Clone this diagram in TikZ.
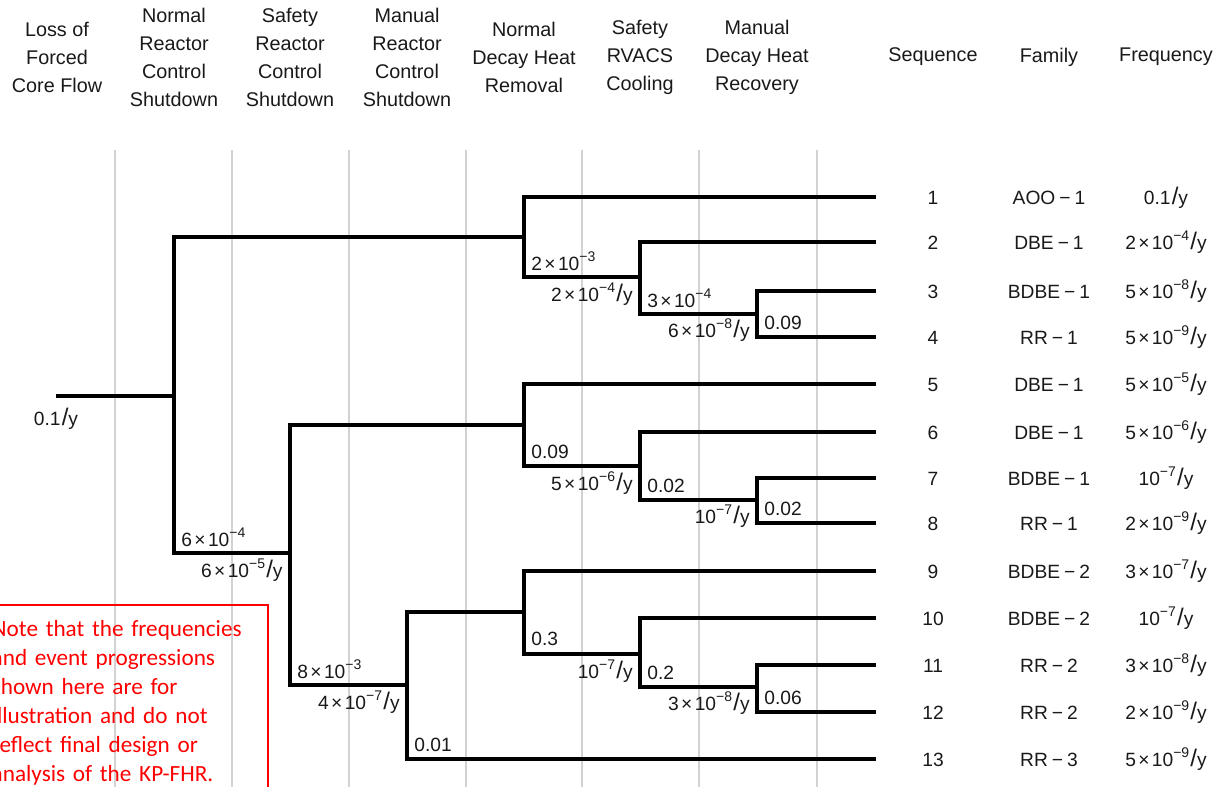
\documentclass[tikz,border=0pt]{standalone}
\usepackage{fontspec}
\setmainfont{Liberation Sans}
\newfontfamily\notefont{Carlito}
\usepackage{tikz}
\usetikzlibrary{positioning}

\newcommand{\ten}[1]{10\raisebox{0.42em}{\fontsize{7}{7}\selectfont−#1}}
\newcommand{\tms}{\kern1.2pt×\kern1.2pt}
\newcommand{\py}{\kern0.6pt{\fontsize{12}{12}\selectfont/}y}
\newcommand{\dash}{\kern2pt−\kern2pt}

\begin{document}
\begin{tikzpicture}
      [x=0.5pt, y=-0.5pt,
      branch/.style={draw, line width=2.3pt, line join=miter},
      grid line/.style={draw, gray!35, line width=0.6pt},
      head/.style={align=center, font=\fontsize{9.9}{14}\selectfont, text=black!90},
      prob/.style={anchor=base west, inner sep=0pt, font=\fontsize{9.6}{11}\selectfont, text=black!90},
      freq/.style={anchor=base east, inner sep=0pt, font=\fontsize{9.6}{11}\selectfont, text=black!90},
      col/.style={anchor=base, font=\fontsize{9.6}{11}\selectfont, text=black!90},
      note/.style={draw=red, line width=0.75pt, text=red, align=left, text width=135pt,
        inner xsep=3pt, inner ysep=8pt, font=\notefont\fontsize{11.6}{14.5}\selectfont}
      ]

      \useasboundingbox (0,0) rectangle (1223,787);
      \clip (0,0) rectangle (1223,787);

      \foreach \x in {115,232,349,466,582,699,817}
        \draw[grid line] (\x,150) -- (\x,787);

      % column heads
      \node[head] (h1) at (57,57) {Loss of\\Forced\\Core Flow};
      \node[head] (h2) at (174,57) {Normal\\Reactor\\Control\\Shutdown};
      \node[head] (h3) at (290,57) {Safety\\Reactor\\Control\\Shutdown};
      \node[head] (h4) at (407,57) {Manual\\Reactor\\Control\\Shutdown};
      \node[head] (h5) at (524,57) {Normal\\Decay Heat\\Removal};
      \node[head] (h6) at (640,57) {Safety\\RVACS\\Cooling};
      \node[head] (h7) at (757,57) {Manual\\Decay Heat\\Recovery};
      \node[head] (h8) at (933,57) {Sequence};
      \node[head] (h9) at (1049,57) {Family};
      \node[head] (h10) at (1166,57) {Frequency};

      % branch points
      \coordinate (init) at (56,396);
      \coordinate (A) at (174,396);
      \coordinate (B) at (524,237);
      \coordinate (C) at (290,553);
      \coordinate (D) at (640,277);
      \coordinate (E) at (757,314);
      \coordinate (F) at (524,425);
      \coordinate (G) at (407,685);
      \coordinate (H) at (640,466);
      \coordinate (I) at (757,500);
      \coordinate (J) at (524,612);
      \coordinate (K) at (640,654);
      \coordinate (L) at (757,687);

      \foreach \y [count=\i] in {197,242,291,337,384,432,478,523,571,618,665,712,759}
        \coordinate (e\i) at (876,\y);

      % failure corners
      \coordinate (Ad) at (A |- C);
      \coordinate (Bd) at (B |- D);
      \coordinate (Cd) at (C |- G);
      \coordinate (Dd) at (D |- E);
      \coordinate (Ed) at (E |- e4);
      \coordinate (Fd) at (F |- H);
      \coordinate (Gd) at (G |- e13);
      \coordinate (Hd) at (H |- I);
      \coordinate (Id) at (I |- e8);
      \coordinate (Jd) at (J |- K);
      \coordinate (Kd) at (K |- L);
      \coordinate (Ld) at (L |- e12);

      \draw[branch] (init) -- (A);
      \draw[branch] (A) |- (B);
      \draw[branch] (A) |- (C);
      \draw[branch] (B) |- (e1);
      \draw[branch] (B) |- (D);
      \draw[branch] (D) |- (e2);
      \draw[branch] (D) |- (E);
      \draw[branch] (E) |- (e3);
      \draw[branch] (E) |- (e4);
      \draw[branch] (C) |- (F);
      \draw[branch] (C) |- (G);
      \draw[branch] (F) |- (e5);
      \draw[branch] (F) |- (H);
      \draw[branch] (H) |- (e6);
      \draw[branch] (H) |- (I);
      \draw[branch] (I) |- (e7);
      \draw[branch] (I) |- (e8);
      \draw[branch] (G) |- (J);
      \draw[branch] (G) |- (e13);
      \draw[branch] (J) |- (e9);
      \draw[branch] (J) |- (K);
      \draw[branch] (K) |- (e10);
      \draw[branch] (K) |- (L);
      \draw[branch] (L) |- (e11);
      \draw[branch] (L) |- (e12);

      \node[col] (f0) at ([shift={(0,29)}]init) {0.1\py};

      \node[prob] (pA) at ([shift={(7,-7)}]Ad) {6\tms\ten{4}};
      \node[prob] (pB) at ([shift={(7,-7)}]Bd) {2\tms\ten{3}};
      \node[prob] (pC) at ([shift={(7,-7)}]Cd) {8\tms\ten{3}};
      \node[prob] (pD) at ([shift={(7,-7)}]Dd) {3\tms\ten{4}};
      \node[prob] (pE) at ([shift={(7,-8)}]Ed) {0.09};
      \node[prob] (pF) at ([shift={(7,-8)}]Fd) {0.09};
      \node[prob] (pG) at ([shift={(7,-8)}]Gd) {0.01};
      \node[prob] (pH) at ([shift={(7,-8)}]Hd) {0.02};
      \node[prob] (pI) at ([shift={(7,-8)}]Id) {0.02};
      \node[prob] (pJ) at ([shift={(7,-9)}]Jd) {0.3};
      \node[prob] (pK) at ([shift={(7,-8)}]Kd) {0.2};
      \node[prob] (pL) at ([shift={(7,-8)}]Ld) {0.06};

      \node[freq] (fC) at ([shift={(-7,24)}]C) {6\tms\ten{5}\py};
      \node[freq] (fD) at ([shift={(-7,24)}]D) {2\tms\ten{4}\py};
      \node[freq] (fE) at ([shift={(-7,23)}]E) {6\tms\ten{8}\py};
      \node[freq] (fG) at ([shift={(-7,24)}]G) {4\tms\ten{7}\py};
      \node[freq] (fH) at ([shift={(-7,24)}]H) {5\tms\ten{6}\py};
      \node[freq] (fI) at ([shift={(-7,23)}]I) {\ten{7}\py};
      \node[freq] (fK) at ([shift={(-7,24)}]K) {\ten{7}\py};
      \node[freq] (fL) at ([shift={(-7,23)}]L) {3\tms\ten{8}\py};

      % sequences
      \foreach \y/\fam/\fr [count=\i] in {
          197/AOO\dash1/{0.1\py},
          242/DBE\dash1/{2\tms\ten{4}\py},
          291/BDBE\dash1/{5\tms\ten{8}\py},
          337/RR\dash1/{5\tms\ten{9}\py},
          384/DBE\dash1/{5\tms\ten{5}\py},
          432/DBE\dash1/{5\tms\ten{6}\py},
          478/BDBE\dash1/{\ten{7}\py},
          523/RR\dash1/{2\tms\ten{9}\py},
          571/BDBE\dash2/{3\tms\ten{7}\py},
          618/BDBE\dash2/{\ten{7}\py},
          665/RR\dash2/{3\tms\ten{8}\py},
          712/RR\dash2/{2\tms\ten{9}\py},
          759/RR\dash3/{5\tms\ten{9}\py}}
      {
        \node[col] (s\i) at (933,\y+7) {\i};
        \node[col] (m\i) at (1049,\y+7) {\fam};
        \node[col] (q\i) at (1166,\y+7) {\fr};
      }

      \node[note, anchor=north west] (remark) at (-15,604)
        {Note that the frequencies\\and event progressions\\shown here are for\\illustration and do not\\reflect final design or\\analysis of the KP-FHR.};
\end{tikzpicture}
\end{document}
